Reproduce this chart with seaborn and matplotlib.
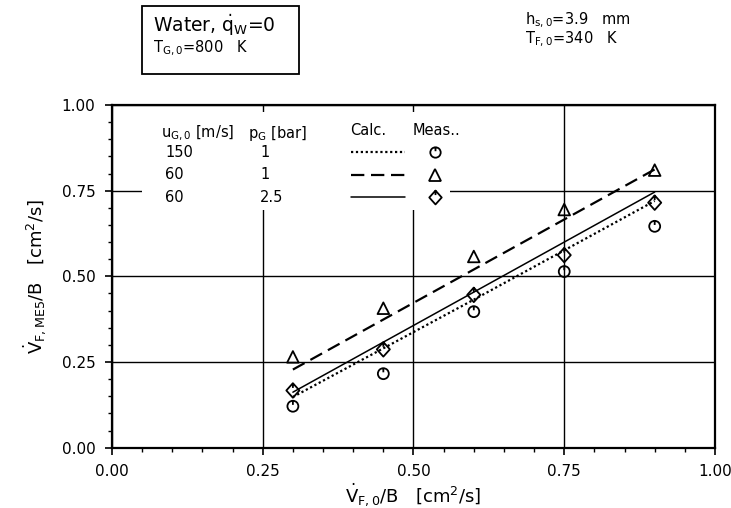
import numpy as np
import pandas as pd
import matplotlib
matplotlib.use("Agg")
import matplotlib.pyplot as plt
import seaborn as sns
from matplotlib.path import Path
from matplotlib.patches import Rectangle
from matplotlib.lines import Line2D
from matplotlib.ticker import MultipleLocator, FormatStrFormatter

# Inlet film flow rate per unit width [cm^2/s]
flow_in = [0.30, 0.45, 0.60, 0.75, 0.90]

# Calculated flow rate per case
calc_150_1 = [0.148, 0.290, 0.432, 0.576, 0.720]
calc_60_1 = [0.228, 0.374, 0.520, 0.666, 0.812]
calc_60_25 = [0.162, 0.308, 0.454, 0.600, 0.746]

# Measured values per case
meas_150_1 = [0.121, 0.216, 0.397, 0.514, 0.646]
meas_60_1 = [0.265, 0.407, 0.558, 0.695, 0.810]
meas_60_25 = [0.167, 0.287, 0.446, 0.562, 0.715]

# Case parameters shown in the key table
gas_velocity = ["150", "60", "60"]
gas_pressure = ["1", "1", "2.5"]

ticks = [0.00, 0.25, 0.50, 0.75, 1.00]

sns.set_theme(style="white")
plt.rcParams["font.family"] = ["DejaVu Sans"]
plt.rcParams["mathtext.default"] = "regular"
for key in ["text.color", "axes.labelcolor", "xtick.color", "ytick.color"]:
    plt.rcParams[key] = "black"

# Open markers with a short stroke from the top, like the plotter symbols
circle_tick = Path.make_compound_path(
    Path.unit_circle(),
    Path([[0, 1], [0, 0.25]], [Path.MOVETO, Path.LINETO]),
)
diamond_tick = Path.make_compound_path(
    Path([[0, 1], [0.9, 0], [0, -1], [-0.9, 0], [0, 1]],
         [Path.MOVETO, Path.LINETO, Path.LINETO, Path.LINETO, Path.CLOSEPOLY]),
    Path([[0, 1], [0, 0.35]], [Path.MOVETO, Path.LINETO]),
)

cases = [
    dict(calc=calc_150_1, meas=meas_150_1, ls=(0, (1.0, 1.2)), lw=1.6, marker=circle_tick, s=62),
    dict(calc=calc_60_1, meas=meas_60_1, ls=(0, (6.0, 3.0)), lw=1.6, marker="^", s=70),
    dict(calc=calc_60_25, meas=meas_60_25, ls="-", lw=1.1, marker=diamond_tick, s=110),
]

fig = plt.figure(figsize=(7.31, 5.08), dpi=100)
ax = fig.add_axes([0.1532, 0.1187, 0.8249, 0.6746])

for c in cases:
    df = pd.DataFrame({"x": flow_in, "calc": c["calc"], "meas": c["meas"]})
    sns.lineplot(data=df, x="x", y="calc", ax=ax, color="black",
                 linestyle=c["ls"], linewidth=c["lw"], legend=False, zorder=3)
    sns.scatterplot(data=df, x="x", y="meas", ax=ax, marker=c["marker"], s=c["s"],
                    facecolors="none", edgecolor="black", linewidth=1.3,
                    legend=False, zorder=4)

ax.set_xlim(0, 1)
ax.set_ylim(0, 1)
ax.set_xticks(ticks)
ax.set_yticks(ticks)
ax.xaxis.set_major_formatter(FormatStrFormatter("%.2f"))
ax.yaxis.set_major_formatter(FormatStrFormatter("%.2f"))
ax.xaxis.set_minor_locator(MultipleLocator(0.05))
ax.yaxis.set_minor_locator(MultipleLocator(0.05))
ax.tick_params(which="major", direction="out", length=5, width=1.2,
               labelsize=11, pad=7, colors="black", bottom=True, left=True)
ax.tick_params(which="minor", direction="out", length=3, width=1.0,
               bottom=True, left=True)
ax.grid(True, which="major", color="black", linewidth=1.0)
for sp in ax.spines.values():
    sp.set_color("black")
    sp.set_linewidth(1.6)

ax.set_xlabel(r"$\dot{V}_{F,0}$/B   [cm$^2$/s]", fontsize=13, labelpad=1)
ax.set_ylabel(r"$\dot{V}_{F,ME5}$/B   [cm$^2$/s]", fontsize=13, labelpad=10)

# Key table, drawn on a blank patch over the grid
ax.add_patch(Rectangle((0.05, 0.695), 0.51, 0.285, facecolor="white",
                       edgecolor="none", transform=ax.transAxes, zorder=2))
tk = dict(transform=ax.transAxes, fontsize=10.5, va="center", ha="left", zorder=5)
ax.text(0.082, 0.918, r"u$_{G,0}$ [m/s]", **tk)
ax.text(0.226, 0.918, r"p$_{G}$ [bar]", **tk)
ax.text(0.395, 0.925, "Calc.", **tk)
ax.text(0.499, 0.925, "Meas..", **tk)
rows_y = [0.862, 0.796, 0.731]
for yv, vel, pr, c in zip(rows_y, gas_velocity, gas_pressure, cases):
    ax.text(0.088, yv, vel, **tk)
    ax.text(0.246, yv, pr, **tk)
    ax.add_line(Line2D([0.397, 0.486], [yv, yv], transform=ax.transAxes,
                       color="black", linestyle=c["ls"], linewidth=c["lw"], zorder=5))
    ax.add_line(Line2D([0.536], [yv], transform=ax.transAxes, marker=c["marker"],
                       markersize=np.sqrt(c["s"]) * 0.95, markerfacecolor="none",
                       markeredgecolor="black", markeredgewidth=1.3,
                       linestyle="none", zorder=5))

# Header annotations
fig.patches.append(Rectangle((142 / 731, 1 - 74 / 508), 157 / 731, 68 / 508,
                             transform=fig.transFigure, facecolor="none",
                             edgecolor="black", linewidth=1.3))
fig.text(153 / 731, 1 - 25 / 508, r"Water, $\dot{q}_W$=0", fontsize=13.5,
         va="center", ha="left")
fig.text(153 / 731, 1 - 48 / 508, r"T$_{G,0}$=800   K", fontsize=10.5,
         va="center", ha="left")
fig.text(525 / 731, 1 - 20 / 508, r"h$_{s,0}$=3.9   mm", fontsize=10.5,
         va="center", ha="left")
fig.text(525 / 731, 1 - 39 / 508, r"T$_{F,0}$=340   K", fontsize=10.5,
         va="center", ha="left")

fig.savefig("out.png", dpi=100)
